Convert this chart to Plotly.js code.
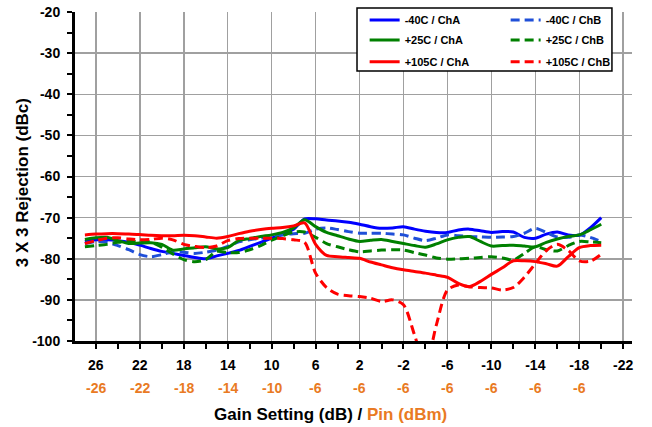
<!DOCTYPE html>
<html><head><meta charset="utf-8">
<script src="https://cdn.plot.ly/plotly-3.0.1.min.js"></script>
<style>html,body{margin:0;padding:0;background:#fff}#chart{width:652px;height:427px}</style>
</head><body><div id="chart"></div>
<script>
// Gain setting (dB) for each measured point
const gain = [27,26,25,24,23,22,21,20,19,18,17,16,15,14,13,12,11,10,9,8,7,6,5,4,3,2,1,0,-1,-2,-3,-4,-5,-6,-7,-8,-9,-10,-11,-12,-13,-14,-15,-16,-17,-18,-19,-20];

const m40ChA = [-75.8,-75.4,-75.4,-75.6,-76.0,-76.7,-77.5,-78.2,-78.7,-79.2,
  -79.7,-80.0,-79.3,-78.7,-78.0,-77.0,-76.0,-75.0,-74.0,-72.8,
  -70.3,-70.3,-70.6,-70.8,-71.1,-71.6,-72.2,-72.6,-72.5,-72.2,
  -72.8,-73.3,-73.6,-73.6,-73.0,-72.8,-73.2,-73.6,-73.4,-73.5,
  -74.8,-75.0,-74.0,-73.5,-74.2,-74.3,-72.5,-70.0];
const m40ChB = [-76.3,-75.8,-76.0,-76.8,-77.8,-79.0,-79.5,-79.0,-78.3,-78.4,
  -78.7,-78.4,-77.9,-77.0,-75.9,-75.4,-75.0,-74.7,-74.2,-73.9,
  -73.8,-72.8,-72.5,-72.9,-73.4,-73.8,-73.8,-73.8,-74.0,-74.2,
  -75.0,-75.6,-75.0,-74.2,-74.4,-74.6,-74.7,-74.8,-74.7,-74.6,
  -73.8,-72.6,-73.6,-74.7,-74.8,-74.2,-74.8,-75.8];
const p25ChA = [-75.3,-74.9,-74.8,-75.6,-76.3,-76.2,-76.1,-76.5,-77.9,-77.6,
  -77.3,-77.1,-77.6,-77.3,-75.6,-75.1,-74.6,-74.2,-73.6,-72.5,
  -70.5,-72.2,-73.6,-74.4,-75.2,-75.8,-75.5,-75.3,-75.8,-76.3,
  -76.8,-77.2,-76.4,-75.4,-74.8,-74.6,-75.8,-76.9,-76.8,-76.7,
  -76.9,-77.1,-76.0,-75.2,-74.6,-74.2,-73.0,-71.6];
const p25ChB = [-77.1,-76.8,-76.5,-76.0,-75.8,-75.8,-76.0,-77.2,-78.8,-80.2,
  -80.7,-80.2,-78.2,-78.5,-78.5,-77.8,-76.8,-75.5,-74.4,-73.5,
  -73.5,-74.8,-76.3,-77.1,-77.8,-78.3,-78.1,-77.9,-77.8,-77.9,
  -78.5,-79.1,-79.8,-80.1,-80.0,-79.9,-79.7,-79.5,-79.8,-80.3,
  -78.7,-77.1,-77.8,-78.1,-76.8,-75.8,-75.9,-76.1];
const p105ChA = [-74.2,-74.0,-73.9,-73.9,-74.0,-74.1,-74.3,-74.4,-74.4,-74.3,
  -74.4,-74.7,-75.0,-74.6,-73.9,-73.3,-72.9,-72.6,-72.4,-72.0,
  -71.3,-76.5,-79.2,-79.5,-79.7,-79.9,-80.8,-81.5,-82.2,-82.7,
  -83.1,-83.5,-84.0,-84.5,-86.0,-86.8,-85.5,-83.8,-82.2,-80.5,
  -80.5,-80.7,-81.2,-81.8,-79.5,-77.3,-76.8,-76.7];
const p105ChB = [-76.3,-75.6,-75.0,-74.9,-75.2,-75.4,-75.3,-75.0,-75.4,-76.5,
  -77.0,-77.3,-76.9,-75.6,-75.1,-75.0,-75.0,-75.0,-75.1,-75.4,
  -76.0,-83.5,-87.0,-88.6,-89.0,-89.2,-89.6,-90.4,-90.0,-91.2,
  -98.5,-106.0,-96.0,-87.6,-86.4,-86.8,-87.0,-87.1,-87.6,-87.0,
  -84.5,-81.2,-78.0,-76.5,-78.0,-80.5,-80.6,-78.9];

const seriesNames = ['-40C / ChA','-40C / ChB','+25C / ChA','+25C / ChB','+105C / ChA','+105C / ChB'];

const gainTicks = [26,22,18,14,10,6,2,-2,-6,-10,-14,-18,-22];
const gainTickText = ['26','22','18','14','10','6','2','-2','-6','-10','-14','-18','-22'];
const pinTickGain = [26,22,18,14,10,6,2,-2,-6,-10,-14,-18];
const pinTickText = ['-26','-22','-18','-14','-10','-6','-6','-6','-6','-6','-6','-6'];
const yTicks = [-100,-90,-80,-70,-60,-50,-40,-30,-20];
const yTickText = ['-100','-90','-80','-70','-60','-50','-40','-30','-20'];

const FONT = 'Liberation Sans, Arial, sans-serif';
const ORANGE = '#E97A23';
const dash = '9px,5px';

const styles = [
  {color:'#0000FF', dash:'solid', legend:'legend'},
  {color:'#1F4FD8', dash:dash, legend:'legend'},
  {color:'#008000', dash:'solid', legend:'legend2'},
  {color:'#008000', dash:dash, legend:'legend2'},
  {color:'#FF0000', dash:'solid', legend:'legend3'},
  {color:'#FF0000', dash:dash, legend:'legend3'}
];
const values = [m40ChA, m40ChB, p25ChA, p25ChB, p105ChA, p105ChB];

const traces = values.map((v,i)=>({
  x: gain, y: v, type:'scatter', mode:'lines', name: seriesNames[i],
  legend: styles[i].legend,
  line: {color: styles[i].color, width: 3, dash: styles[i].dash, shape:'spline', smoothing: 0.8},
  hoverinfo: 'skip'
}));

const annotations = pinTickGain.map((g,i)=>({
  x: g, xref:'x', y: -0.143, yref:'paper', yanchor:'middle', xanchor:'center',
  text: pinTickText[i], showarrow:false,
  font:{family:FONT, size:14, color:ORANGE, weight:'bold'}
}));
annotations.push({
  x: 0.458, xref:'paper', y: -0.222, yref:'paper', xanchor:'center', yanchor:'middle',
  text: 'Gain Setting (dB) / <span style="color:' + ORANGE + '">Pin (dBm)</span>',
  showarrow:false, font:{family:FONT, size:17, color:'#000', weight:'bold'}
});
annotations.push({
  x: -0.095, xref:'paper', y: 0.48, yref:'paper', xanchor:'center', yanchor:'middle',
  text: '3 X 3 Rejection (dBc)', textangle:-90,
  showarrow:false, font:{family:FONT, size:17, color:'#000', weight:'bold'}
});

const legendBase = {
  orientation:'h', entrywidth:96, entrywidthmode:'pixels',
  x:0.520, xanchor:'left', yanchor:'middle',
  bgcolor:'rgba(0,0,0,0)', borderwidth:0,
  font:{family:FONT, size:11, color:'#000', weight:'bold'}
};

const xRange = [27.9, -22.8];
const yRange = [-100, -20];

const layout = {
  width:652, height:427,
  margin:{l:75, r:20, t:12, b:86, autoexpand:false},
  paper_bgcolor:'#fff', plot_bgcolor:'#fff',
  font:{family:FONT, color:'#000'},
  showlegend:true,
  xaxis:{
    range:xRange, tickmode:'array', tickvals:gainTicks, ticktext:gainTickText,
    showgrid:true, gridcolor:'#a0a0a0', gridwidth:1.5,
    zeroline:false, showline:true, linecolor:'#000', linewidth:3,
    ticks:'outside', ticklen:5, tickwidth:2, tickcolor:'#000',
    minor:{tickmode:'linear', tick0:0, dtick:2, ticks:'outside', ticklen:5, tickwidth:2, tickcolor:'#000', showgrid:false},
    ticklabelstandoff:4,
    tickfont:{family:FONT, size:14, color:'#000', weight:'bold'}
  },
  xaxis2:{
    range:xRange, overlaying:'x', anchor:'y', side:'bottom',
    tickmode:'array', tickvals:gainTicks, showticklabels:false,
    showgrid:false, zeroline:false, showline:false,
    ticks:'inside', ticklen:5, tickwidth:2, tickcolor:'#000',
    minor:{tickmode:'linear', tick0:0, dtick:2, ticks:'inside', ticklen:5, tickwidth:2, tickcolor:'#000', showgrid:false}
  },
  yaxis:{
    range:yRange, tickmode:'array', tickvals:yTicks, ticktext:yTickText,
    showgrid:true, gridcolor:'#a0a0a0', gridwidth:1.5,
    zeroline:false, showline:true, linecolor:'#000', linewidth:3,
    ticks:'outside', ticklen:5, tickwidth:2, tickcolor:'#000',
    minor:{tickmode:'linear', tick0:0, dtick:5, ticks:'outside', ticklen:5, tickwidth:2, tickcolor:'#000', showgrid:false},
    ticklabelstandoff:4,
    tickfont:{family:FONT, size:14, color:'#000', weight:'bold'}
  },
  yaxis2:{
    range:yRange, overlaying:'y', anchor:'x', side:'left',
    tickmode:'array', tickvals:yTicks, showticklabels:false,
    showgrid:false, zeroline:false, showline:false,
    ticks:'inside', ticklen:5, tickwidth:2, tickcolor:'#000',
    minor:{tickmode:'linear', tick0:0, dtick:5, ticks:'inside', ticklen:5, tickwidth:2, tickcolor:'#000', showgrid:false}
  },
  legend: Object.assign({}, legendBase, {y:0.976}),
  legend2: Object.assign({}, legendBase, {y:0.915}),
  legend3: Object.assign({}, legendBase, {y:0.849}),
  shapes:[{
    type:'rect', xref:'paper', yref:'paper', x0:0.5063, x1:0.964, y0:0.8207, y1:1.0122,
    line:{color:'#000', width:1.5}, fillcolor:'#fff', layer:'above'
  }],
  annotations: annotations
};

Plotly.newPlot('chart', traces, layout, {staticPlot:true, displayModeBar:false});
</script>
</body></html>
